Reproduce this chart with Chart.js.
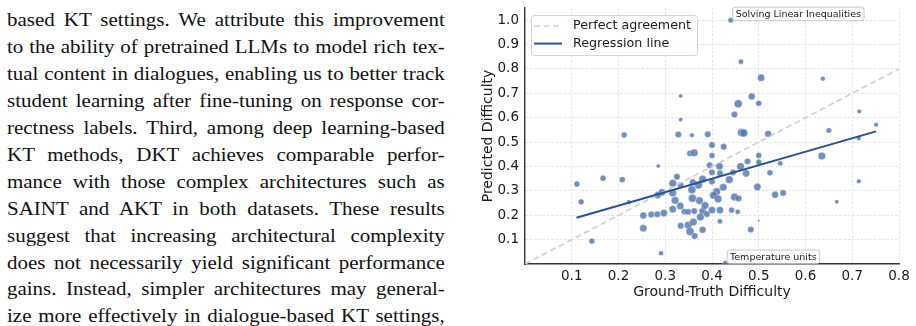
<!DOCTYPE html>
<html>
<head>
<meta charset="utf-8">
<script src="https://cdn.jsdelivr.net/npm/chart.js@4.4.1/dist/chart.umd.min.js"></script>
<style>
  html, body { margin: 0; padding: 0; background: #fff; }
  body { width: 916px; height: 326px; position: relative; overflow: hidden; }
  #texto {
    position: absolute; left: 7px; top: 7.4px; width: 384px;
    transform: scaleX(1.14); transform-origin: 0 0;
    font-family: "Liberation Serif", serif; font-size: 18.4px; line-height: 26.9px; color: #111;
  }
  #texto div { text-align: justify; text-align-last: justify; }
  #caja { position: absolute; left: 470px; top: 0; width: 446px; height: 326px; }
</style>
</head>
<body>
<div id="texto">
  <div>based KT settings. We attribute this improvement</div>
  <div>to the ability of pretrained LLMs to model rich tex-</div>
  <div>tual content in dialogues, enabling us to better track</div>
  <div>student learning after fine-tuning on response cor-</div>
  <div>rectness labels. Third, among deep learning-based</div>
  <div>KT methods, DKT achieves comparable perfor-</div>
  <div>mance with those complex architectures such as</div>
  <div>SAINT and AKT in both datasets. These results</div>
  <div>suggest that increasing architectural complexity</div>
  <div>does not necessarily yield significant performance</div>
  <div>gains. Instead, simpler architectures may general-</div>
  <div>ize more effectively in dialogue-based KT settings,</div>
</div>
<div id="caja"><canvas id="graficoDificultad"></canvas></div>

<script>
// ====================================
// Datos
// ====================================
const gtDificultad = [
  0.44, 0.462, 0.505, 0.637, 0.485, 0.456, 0.50, 0.448, 0.715, 0.333,
  0.333, 0.212, 0.328, 0.357, 0.391, 0.463, 0.468, 0.52, 0.65, 0.751,
  0.714, 0.40, 0.425, 0.353, 0.362, 0.40, 0.50, 0.635, 0.476, 0.50,
  0.546, 0.395, 0.416, 0.461, 0.285, 0.111, 0.167, 0.208, 0.12, 0.222,
  0.143, 0.291, 0.253, 0.253, 0.27, 0.283, 0.297, 0.284, 0.293, 0.316,
  0.325, 0.333, 0.316, 0.321, 0.332, 0.316, 0.341, 0.349, 0.358, 0.357,
  0.359, 0.373, 0.333, 0.349, 0.36, 0.353, 0.363, 0.38, 0.362, 0.38,
  0.375, 0.389, 0.40, 0.417, 0.442, 0.455, 0.417, 0.50, 0.483, 0.428,
  0.38, 0.40, 0.437, 0.714, 0.371, 0.424, 0.497, 0.41, 0.403, 0.413,
  0.448, 0.457, 0.535, 0.552, 0.667, 0.385, 0.40, 0.417, 0.445, 0.473,
  0.524
];
const predDificultad = [
  1.00, 0.83, 0.764, 0.76, 0.687, 0.657, 0.659, 0.613, 0.626, 0.689,
  0.592, 0.529, 0.531, 0.528, 0.532, 0.539, 0.537, 0.534, 0.548, 0.571,
  0.515, 0.488, 0.481, 0.454, 0.456, 0.445, 0.445, 0.443, 0.421, 0.418,
  0.413, 0.405, 0.401, 0.40, 0.402, 0.328, 0.352, 0.346, 0.255, 0.254,
  0.094, 0.044, 0.147, 0.199, 0.203, 0.204, 0.209, 0.283, 0.294, 0.331,
  0.358, 0.323, 0.291, 0.261, 0.238, 0.225, 0.215, 0.214, 0.27, 0.305,
  0.335, 0.26, 0.157, 0.159, 0.172, 0.133, 0.115, 0.14, 0.217, 0.217,
  0.193, 0.205, 0.221, 0.221, 0.221, 0.214, 0.175, 0.178, 0.141, 0.004,
  0.348, 0.338, 0.346, 0.339, 0.324, 0.315, 0.316, 0.297, 0.282, 0.267,
  0.275, 0.269, 0.284, 0.291, 0.255, 0.24, 0.376, 0.372, 0.376, 0.372,
  0.374
];
// numero de dialogos por concepto (tamaño del punto)
const nDialogos = [
  10, 9, 18, 8, 16, 22, 12, 14, 7, 6,
  6, 12, 14, 7, 14, 22, 22, 16, 10, 7,
  7, 14, 14, 14, 20, 12, 12, 20, 14, 12,
  9, 14, 18, 20, 6, 12, 12, 12, 12, 7,
  12, 8, 18, 16, 14, 14, 18, 18, 18, 20,
  14, 14, 20, 20, 18, 18, 14, 14, 22, 22,
  16, 20, 14, 20, 20, 22, 14, 16, 14, 18,
  20, 14, 18, 18, 12, 9, 9, 2, 14, 8,
  20, 14, 20, 7, 22, 20, 18, 20, 20, 20,
  20, 14, 16, 14, 6, 20, 14, 14, 14, 18,
  12
];

const diagX = [0, 0.8];
const diagY = [0, 0.8];
const regX = [0.11, 0.751];
const regY = [0.19, 0.544];

const xTicks = [0.1, 0.2, 0.3, 0.4, 0.5, 0.6, 0.7, 0.8];
const yTicks = [0.1, 0.2, 0.3, 0.4, 0.5, 0.6, 0.7, 0.8, 0.9, 1.0];

const anotTextos = ['Solving Linear Inequalities', 'Temperature units'];
const anotX = [0.44, 0.428];
const anotY = [1.0, 0.004];

// ====================================
// Plugins: leyenda con marco y etiquetas
// ====================================
const leyendaCaja = {
  id: 'leyendaCaja',
  afterDatasetsDraw(chart) {
    const { ctx, chartArea } = chart;
    const x0 = chartArea.left + 6, y0 = chartArea.top + 7;
    ctx.save();
    ctx.fillStyle = 'rgba(255,255,255,0.85)';
    ctx.strokeStyle = '#d4d4d4';
    ctx.lineWidth = 1;
    ctx.beginPath();
    ctx.roundRect(x0 + 0.5, y0 + 0.5, 166, 40, 3);
    ctx.fill();
    ctx.stroke();
    const items = chart.data.datasets.filter(d => d.enLeyenda);
    items.forEach((d, i) => {
      const yy = y0 + 11 + i * 17.6;
      ctx.strokeStyle = d.borderColor;
      ctx.lineWidth = d.borderWidth;
      ctx.setLineDash(d.borderDash || []);
      ctx.beginPath();
      ctx.moveTo(x0 + 3, yy);
      ctx.lineTo(x0 + 31, yy);
      ctx.stroke();
      ctx.setLineDash([]);
      ctx.fillStyle = '#1a1a1a';
      ctx.font = '12.7px "DejaVu Sans"';
      ctx.textBaseline = 'middle';
      ctx.fillText(d.label, x0 + 42, yy);
    });
    ctx.restore();
  }
};

const anotaciones = {
  id: 'anotaciones',
  afterDatasetsDraw(chart) {
    const { ctx } = chart;
    const sx = chart.scales.x, sy = chart.scales.y;
    ctx.save();
    ctx.font = '9.5px "DejaVu Sans"';
    anotTextos.forEach((t, i) => {
      const px = sx.getPixelForValue(anotX[i]);
      const py = sy.getPixelForValue(anotY[i]);
      const tw = ctx.measureText(t).width;
      const bx = px + 2, bh = 13.5, by = py + 0.5 - bh, bw = tw + 6;
      ctx.fillStyle = '#fff';
      ctx.strokeStyle = '#b8b8b8';
      ctx.lineWidth = 0.8;
      ctx.beginPath();
      ctx.roundRect(bx, by, bw, bh, 2.5);
      ctx.fill();
      ctx.stroke();
      ctx.fillStyle = '#1a1a1a';
      ctx.textBaseline = 'middle';
      ctx.fillText(t, bx + 3, by + bh / 2 + 0.5);
    });
    ctx.restore();
  }
};

//funcion para renderizar la grafica
function renderGrafico() {
  Chart.defaults.font.family = '"DejaVu Sans"';
  const fuenteTicks = { family: '"DejaVu Sans"', size: 13.5 };
  const fuenteTitulo = { family: '"DejaVu Sans"', size: 14 };

  new Chart(document.getElementById('graficoDificultad'), {
    type: 'scatter',
    data: {
      datasets: [{
        label: 'Perfect agreement',
        enLeyenda: true,
        data: diagX.map((x, i) => ({ x: x, y: diagY[i] })),
        showLine: true,
        pointRadius: 0,
        borderColor: '#cfcfcf',
        borderWidth: 1.6,
        borderDash: [6, 3.5],
        order: 1
      }, {
        label: 'Regression line',
        enLeyenda: true,
        data: regX.map((x, i) => ({ x: x, y: regY[i] })),
        showLine: true,
        pointRadius: 0,
        borderColor: '#2c4f96',
        borderWidth: 2,
        order: 0
      }, {
        label: 'Conceptos',
        data: gtDificultad.map((x, i) => ({ x: x, y: predDificultad[i] })),
        pointRadius: ctx => Math.sqrt(nDialogos[ctx.dataIndex]) * 0.85,
        backgroundColor: 'rgba(76,114,176,0.8)',
        borderColor: 'rgba(255,255,255,0.7)',
        borderWidth: 0.5,
        order: 2
      }]
    },
    options: {
      responsive: true,
      maintainAspectRatio: false,
      animation: false,
      events: [],
      layout: { padding: { top: 8, right: 17, left: 0, bottom: 0 } },
      plugins: {
        legend: { display: false },
        tooltip: { enabled: false }
      },
      scales: {
        x: {
          type: 'linear',
          min: 0,
          max: 0.8,
          afterBuildTicks: s => { s.ticks = xTicks.map(v => ({ value: v })); },
          afterFit: s => { s.height = 62; s.paddingLeft = 0; s.paddingRight = 0; },
          ticks: {
            callback: v => v.toFixed(1),
            font: fuenteTicks,
            color: '#1a1a1a',
            padding: 4,
            maxRotation: 0,
            autoSkip: false
          },
          grid: { color: '#dddddd', lineWidth: 0.8, drawTicks: false },
          border: { display: true, color: '#333', width: 1.4, dash: [2.5, 1.8] },
          title: {
            display: true,
            text: 'Ground-Truth Difficulty',
            font: fuenteTitulo,
            color: '#1a1a1a',
            padding: { top: 0, bottom: 25 }
          }
        },
        y: {
          type: 'linear',
          min: 0,
          max: 1.05,
          afterBuildTicks: s => { s.ticks = yTicks.map(v => ({ value: v })); },
          afterFit: s => { s.width = 55; s.paddingTop = 0; s.paddingBottom = 0; },
          ticks: {
            callback: v => v.toFixed(1),
            font: fuenteTicks,
            color: '#1a1a1a',
            padding: 6,
            autoSkip: false
          },
          grid: { color: '#dddddd', lineWidth: 0.8, drawTicks: false },
          border: { display: true, color: '#333', width: 1.4, dash: [2.5, 1.8] },
          title: {
            display: true,
            text: 'Predicted Difficulty',
            font: fuenteTitulo,
            color: '#1a1a1a',
            padding: { top: 9.6, bottom: 0 }
          }
        }
      }
    },
    plugins: [leyendaCaja, anotaciones]
  });
}

renderGrafico();
</script>
</body>
</html>
